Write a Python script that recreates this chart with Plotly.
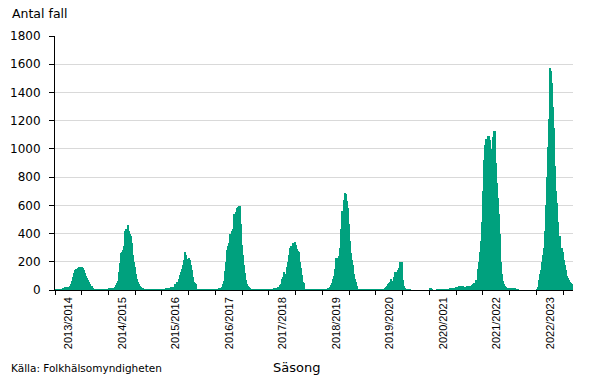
import plotly.graph_objects as go

seasons = ["2013/2014", "2014/2015", "2015/2016", "2016/2017", "2017/2018",
           "2018/2019", "2019/2020", "2020/2021", "2021/2022", "2022/2023"]

# Weekly case counts per season (season starts at week 27, new year at week index 26)
s2013 = [5, 5, 5, 6, 6, 6, 7, 8, 8, 18, 20, 20, 22, 22, 25,
         40, 65, 95, 120, 140, 148, 150, 155, 160, 163, 165, 163, 155, 140, 120, 100, 85, 70, 55, 40, 28, 15, 5,
         2, 2, 2, 2, 2, 2, 2, 2, 2, 2, 2, 2, 2, 2]
s2014 = [10, 10, 12, 12, 14, 15,
         20, 35, 47, 66, 130, 190, 265, 270, 280, 310, 420, 435, 460, 420, 400, 380, 330, 250, 200, 165, 110, 80,
         60, 40, 30, 20, 15, 10,
         1, 1, 1, 1, 1, 1, 1, 1, 1, 1, 1, 1, 1, 1, 1, 1, 1, 1]
s2015 = [5, 5, 5, 10, 10, 12, 12, 12, 18, 18, 20, 20,
         40, 45, 55, 60, 80, 105, 125, 150, 180, 215, 270, 250, 215, 222, 225, 210, 180, 145, 95, 55, 50, 40,
         1, 1, 1, 1, 1, 1, 1, 1, 1, 1, 1, 1, 1, 1, 1, 1, 1, 1]
s2016 = [5, 5, 5, 8, 10,
         12, 22, 40, 66, 135, 200, 280, 310, 330, 400, 360, 420, 430, 540, 555, 580, 590, 595, 595, 470, 320,
         250, 180, 118, 71, 40, 28, 19, 15,
         1, 1, 1, 1, 1, 1, 1, 1, 1, 1, 1, 1, 1, 1, 1, 1, 1, 1]
s2017 = [5, 6, 7, 7, 12, 15, 17, 17, 20, 22,
         35, 40, 75, 95, 130, 100, 110, 160, 200, 250, 300, 310, 300, 330, 335, 340, 320, 290, 275, 270, 200,
         155, 105, 60, 50,
         1, 1, 1, 1, 1, 1, 1, 1, 1, 1, 1, 1, 1, 1, 1, 1, 1]
s2018 = [5, 5, 6, 6, 7, 8,
         14, 22, 35, 50, 75, 100, 150, 225, 230, 222, 240, 300, 430, 560, 640, 687, 680, 630, 580, 465, 350,
         260, 215, 175, 110, 80, 55, 30,
         1, 1, 1, 1, 1, 1, 1, 1, 1, 1, 1, 1, 1, 1, 1, 1, 1, 1]
s2019 = [5, 5, 5, 5, 6, 6, 7, 7,
         15, 20, 30, 40, 47, 60, 78, 65, 60, 95, 130, 112, 125, 142, 155, 195, 198, 195, 70, 25, 12,
         5, 5, 5, 5, 5,
         0, 0, 0, 0, 0, 0, 0, 0, 0, 0, 0, 0, 0, 0, 0, 0, 0, 0]
s2020 = [8, 8, 5, 0, 0, 0, 0, 3, 6, 6, 5, 6, 6, 6, 6, 6,
         6, 6, 6, 6, 8, 8, 10, 15, 17, 18, 22, 24, 26, 28, 28, 28, 28, 22, 20, 22,
         28, 28, 28, 30, 30, 35, 45, 47, 50, 70, 71, 150, 200, 270, 350, 480]
s2021 = [700, 920, 1030, 1070, 1090, 1091, 1060, 1000, 990, 1085, 1127, 1127,
         900, 760, 650, 540, 400, 200, 110, 65, 45, 30, 22, 17, 15, 12,
         12, 12, 12, 12, 12, 10, 6, 6, 5,
         0, 0, 0, 0, 0, 0, 0, 0, 0, 0, 0, 0, 0, 0, 0, 0, 0]
s2022 = [5, 20, 71, 110, 142, 200, 250, 300, 420, 600, 800, 1016, 1210, 1570, 1550, 1465, 1300, 1146,
         880, 700, 614, 480, 380, 300, 298, 271, 213, 180, 142, 100, 85, 71, 60, 50, 40, 30]

season_data = [s2013, s2014, s2015, s2016, s2017, s2018, s2019, s2020, s2021, s2022]
for s in season_data[:-1]:
    assert len(s) == 52, len(s)

weekly = [v for s in season_data for v in s]
week_idx = [i + 0.5 for i in range(len(weekly))]

WEEKS_PER_SEASON = 52
x_end = 503.6
tick_vals = list(range(0, 495, 26))
label_vals = [WEEKS_PER_SEASON * k + 13.5 for k in range(len(seasons))]

BAR = "#00A17E"
FONT = "DejaVu Sans"

fig = go.Figure()
fig.add_trace(go.Bar(x=week_idx, y=weekly, marker=dict(color=BAR, line=dict(width=0)),
                     hoverinfo="y", showlegend=False))
fig.add_trace(go.Scatter(x=label_vals, y=[0] * len(label_vals), xaxis="x2", mode="none",
                         hoverinfo="skip", showlegend=False))

fig.update_layout(
    width=605, height=378,
    margin=dict(l=55, r=32, t=36, b=88, autoexpand=False),
    paper_bgcolor="white", plot_bgcolor="white",
    bargap=0,
    font=dict(family=FONT, color="black", size=12),
    xaxis=dict(range=[0, x_end], tickvals=tick_vals, showticklabels=False,
               ticks="outside", ticklen=4, tickcolor="black", tickwidth=1,
               showline=True, linecolor="black", linewidth=1, showgrid=False, zeroline=False,
               fixedrange=True, automargin=False),
    xaxis2=dict(overlaying="x", anchor="y", side="bottom", range=[0, x_end],
                tickvals=label_vals, ticktext=seasons, tickangle=-90, ticks="",
                showline=False, showgrid=False, zeroline=False, ticklabelstandoff=4,
                automargin=False,
                tickfont=dict(family="Liberation Sans", size=11, color="black")),
    yaxis=dict(range=[0, 1800], dtick=200, tick0=0, ticks="outside", ticklen=5,
               tickcolor="black", showline=True, linecolor="black", linewidth=1,
               showgrid=True, gridcolor="#D9D9D9", gridwidth=1, zeroline=False,
               ticklabelstandoff=6, automargin=False,
               tickfont=dict(family=FONT, size=12, color="black")),
    annotations=[
        dict(text="Antal fall", xref="paper", yref="paper", x=-0.0869, y=1.087,
             xanchor="left", yanchor="middle", showarrow=False,
             font=dict(family=FONT, size=12.5, color="black")),
        dict(text="Säsong", xref="paper", yref="paper", x=0.4653, y=-0.307,
             xanchor="center", yanchor="middle", showarrow=False,
             font=dict(family=FONT, size=13, color="black")),
        dict(text="Källa: Folkhälsomyndigheten", xref="paper", yref="paper", x=-0.0888, y=-0.307,
             xanchor="left", yanchor="middle", showarrow=False,
             font=dict(family=FONT, size=10.5, color="black")),
    ],
)

fig.write_html("out.html", config={"displayModeBar": False},
               post_script="document.body.style.margin='0';document.body.style.padding='0';")
